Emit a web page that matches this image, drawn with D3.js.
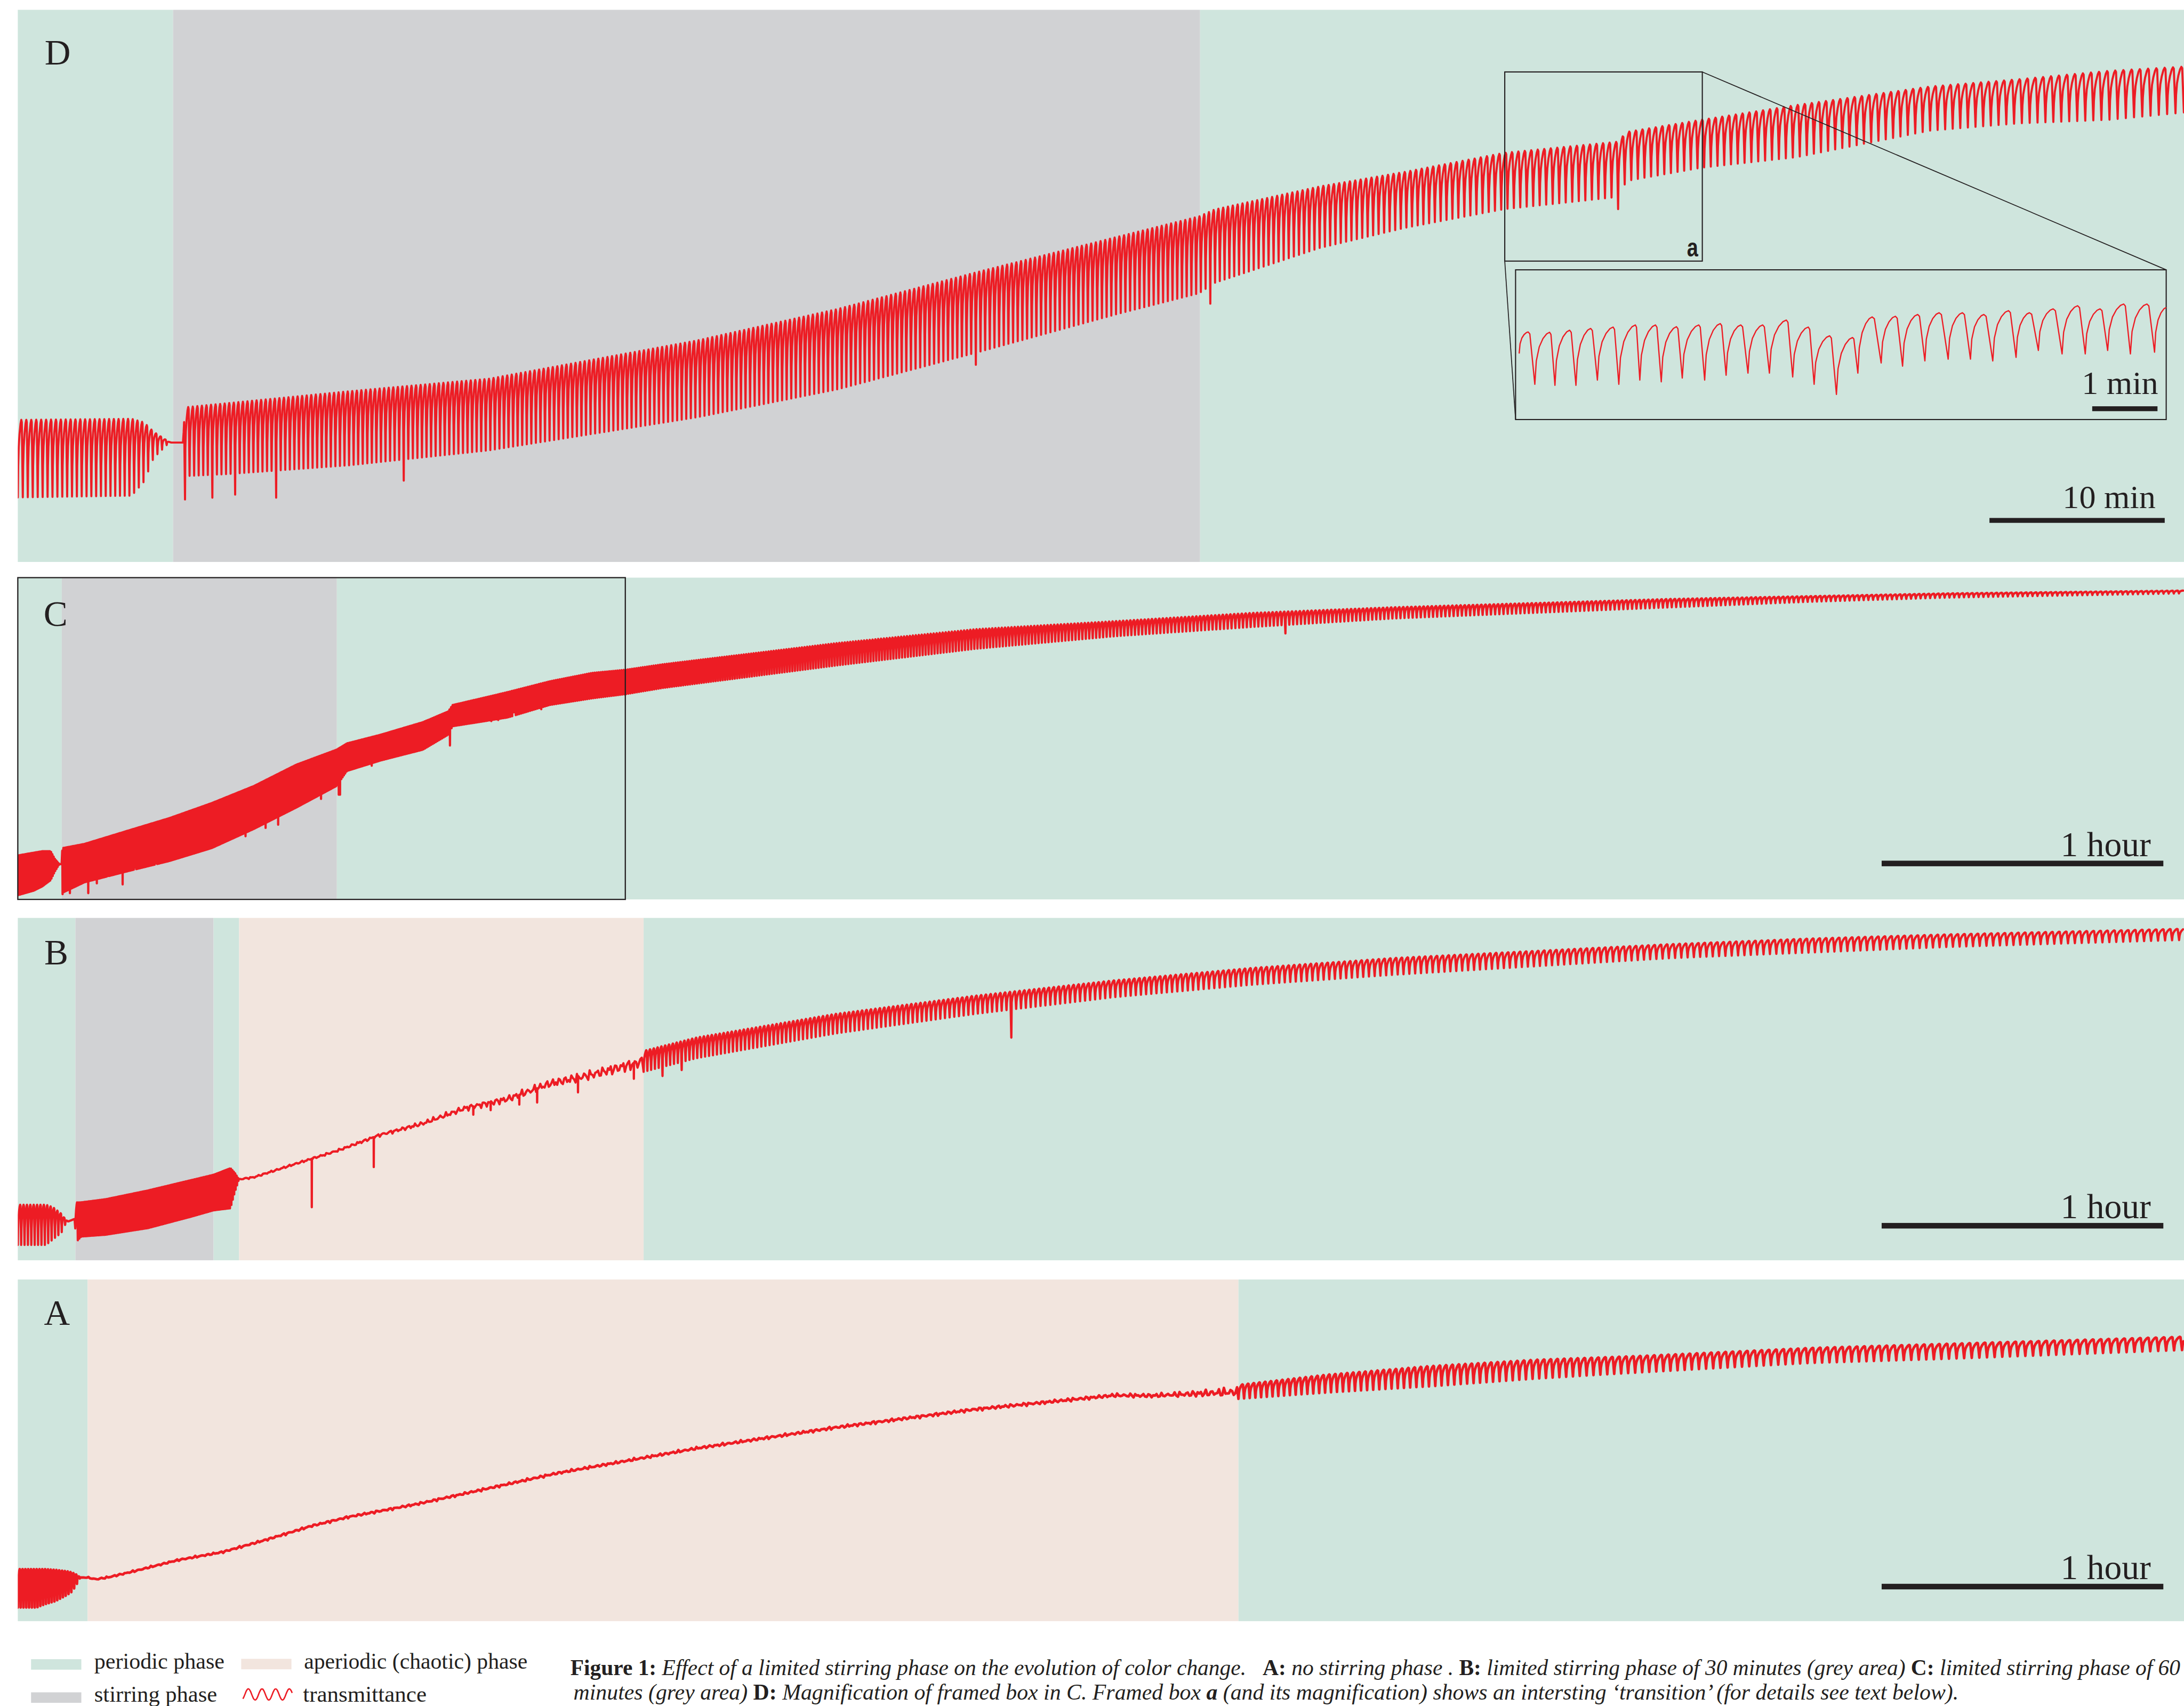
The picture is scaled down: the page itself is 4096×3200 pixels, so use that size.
<!DOCTYPE html>
<html>
<head>
<meta charset="utf-8">
<script src="https://cdn.jsdelivr.net/npm/d3@7"></script>
<style>
  html, body { margin: 0; padding: 0; background: #fff; }
  svg { display: block; }
  text { font-family: "Liberation Serif", "DejaVu Serif", serif; fill: #231f20; }
</style>
</head>
<body>
<svg id="fig" width="4096" height="3200" viewBox="0 0 6257 4888"></svg>
<script>
// ---------------------------------------------------------------
// Data: time in minutes (inset: seconds), transmittance in arbitrary units
// ---------------------------------------------------------------

// Phase bands [kind, start, end]
const phasesD = [["periodic", 0, 8.86], ["stirring", 8.86, 67.46], ["periodic", 67.46, 123.6]];
const phasesC = [["periodic", 0, 9.37], ["stirring", 9.37, 67.96], ["periodic", 67.96, 461.4]];
const phasesB = [["periodic", 0, 12.27], ["stirring", 12.27, 41.7], ["periodic", 41.7, 47.14],
                 ["aperiodic", 47.14, 133.3], ["periodic", 133.3, 461.4]];
const phasesA = [["periodic", 0, 14.87], ["aperiodic", 14.87, 260], ["periodic", 260, 461.4]];

// Oscillation envelopes [t, upper, lower]
const envD = [[0, 407, 185], [6.5, 410, 190], [7.2, 400, 230], [7.75, 373, 298], [8.3, 355, 325],
  [8.6, 345, 340], [8.74, 342, 342], [9.44, 342, 342], [9.52, 443, 246], [12, 455, 252],
  [18.9, 489, 277], [26.9, 525, 320], [38.8, 635, 415], [46.8, 725, 495], [54.7, 830, 600],
  [62.7, 931, 710], [67.4, 990, 770], [68.3, 1010, 800], [74.3, 1076, 900], [79.2, 1118, 958],
  [84.8, 1172, 1011], [91.3, 1204, 1046], [91.8, 1232, 1092], [96.1, 1267, 1130],
  [101.5, 1309, 1160], [109.1, 1362, 1236], [114.2, 1383, 1257], [119.3, 1407, 1267],
  [123.6, 1419, 1288]];
const periodD = [[0, 0.285], [9.5, 0.26], [40, 0.26], [68, 0.27], [80, 0.325], [86, 0.37],
  [96, 0.38], [123.6, 0.48]];
const dipsD = [[9.52, 179], [11.0, 184], [12.5, 193], [14.7, 184], [22.0, 233], [54.6, 565],
  [68.0, 740], [91.2, 1011]];

const envC = [[0, 126, 12], [3.4, 134, 25], [5.2, 138, 37], [7.0, 138, 55], [7.9, 116, 80],
  [8.85, 101, 101], [9.3, 101, 101], [9.5, 147, 19], [14.2, 159, 49], [23.2, 196, 80],
  [32.3, 233, 110], [41.3, 276, 147], [50.3, 325, 202], [59.3, 386, 263], [67.9, 429, 325],
  [70.1, 447, 368], [77.3, 472, 398], [86.3, 508, 429], [91.7, 539, 472], [92.6, 557, 496],
  [104.3, 594, 521], [113.3, 625, 557], [122.3, 649, 576], [129.4, 658, 588], [137.5, 674, 606],
  [174.2, 734, 670], [203.9, 774, 718], [233.5, 797, 754], [263.2, 821, 781], [292.9, 837, 805],
  [322.5, 849, 821], [352.2, 861, 837], [381.9, 869, 853], [411.5, 877, 865], [461.4, 885, 877]];
const periodC = [[0, 0.285], [9.4, 0.26], [68, 0.27], [130, 0.45], [250, 0.8], [461.4, 1.1]];
const dipsC = [[9.6, 15], [11.1, 18], [14.9, 18], [16.9, 46], [19.2, 67], [22.3, 43], [25.0, 92],
  [29.5, 104], [38.5, 135], [48.5, 181], [52.9, 205], [55.4, 214], [64.7, 288], [68.5, 300],
  [75.5, 383], [92.1, 441], [100.7, 511], [102.5, 514], [105.7, 536], [111.5, 545], [270, 762]];
const frameC = [0, 129.4];

const envB1 = [[0, 159, 44], [6.0, 159, 44], [7.5, 152, 60], [9.3, 133, 79], [10.0, 120, 100],
  [10.7, 111, 111], [12.2, 119, 119], [12.3, 166, 50], [13.5, 166, 68], [18.7, 175, 73],
  [27.7, 200, 92], [36.7, 229, 124], [41.7, 245, 143], [45.3, 264, 149], [46.2, 251, 194],
  [47.1, 232, 232]];
const periodB1 = [[0, 0.72], [12.2, 0.72], [12.3, 0.3], [47.2, 0.3]];
const driftB = [[47.1, 232], [50.3, 238], [59.3, 277], [68.3, 315], [77.3, 360], [86.3, 392],
  [95.3, 436], [104.3, 462], [113.3, 506], [122.3, 532], [133.3, 570]];
const jitterB = [[47.1, 3], [65, 4], [80, 6], [95, 10], [110, 14], [125, 18], [133.3, 22]];
const spikesB = [[62.6, 152], [75.8, 267], [97.0, 417], [100.7, 430], [106.8, 446],
  [110.6, 452], [119.3, 481], [131.2, 520]];
const envB2 = [[133.3, 600, 540], [144.5, 638, 579], [174.2, 706, 650], [203.9, 758, 706],
  [233.5, 802, 754], [263.2, 838, 790], [292.9, 866, 818], [322.5, 886, 842], [352.2, 906, 866],
  [381.9, 922, 882], [411.5, 934, 898], [461.4, 950, 918]];
const periodB2 = [[133.3, 0.8], [200, 1.0], [300, 1.25], [461.4, 1.5]];
const dipsB2 = [[137.5, 528], [141.0, 545], [211.3, 638]];

const envA1 = [[0, 149, 39], [4.0, 149, 39], [5.7, 149, 48], [8.0, 147, 57], [10.4, 143, 74],
  [11.4, 140, 83], [12.3, 135, 99], [13.3, 125, 125]];
const periodA1 = [[0, 0.6], [15, 0.6]];
const driftA = [[13.3, 125], [14.9, 125], [16.6, 120], [19.4, 126], [24.7, 143], [34.1, 175],
  [43.6, 198], [53.1, 234], [62.6, 273], [70.6, 299], [85.2, 336], [114.9, 424], [144.5, 495],
  [174.2, 555], [203.9, 607], [233.5, 647], [241.6, 646], [260, 657]];
const jitterA = [[13.3, 0], [16, 3], [60, 4], [150, 5], [230, 6], [245, 8], [255, 14], [260, 18]];
const envA2 = [[260, 677, 637], [278.7, 706, 655], [301.0, 731, 673], [323.3, 749, 695],
  [345.7, 760, 713], [381.9, 783, 740], [411.5, 795, 752], [461.4, 815, 777]];
const periodA2 = [[260, 1.2], [345, 1.5], [461.4, 1.7]];

// Magnified box "a" (time in seconds)
const insetStart = [3.3, 189];
const insetEnd = [598, 321];
const insetPeaks = [[11.6, 251], [31.3, 250], [49.7, 256], [69.0, 261], [89.6, 265], [110.1, 271],
  [128.6, 271], [147.9, 266], [168.4, 271], [188.1, 275], [207.0, 271], [227.1, 271], [248.9, 285],
  [269.0, 265], [288.7, 240], [309.7, 235], [327.7, 294], [349.1, 296], [369.6, 301], [389.3, 306],
  [410.7, 306], [430.4, 301], [453.0, 312], [472.3, 306], [494.1, 317], [516.6, 326], [537.2, 317],
  [558.9, 331], [580.3, 331]];
const insetTroughs = [[17.7, 101], [36.2, 98], [55.5, 98], [75.2, 113], [94.9, 101], [114.2, 113],
  [133.9, 108], [153.2, 119], [173.8, 113], [193.5, 127], [213.6, 133], [233.3, 133], [254.7, 122],
  [274.4, 101], [294.9, 72], [314.6, 133], [336.0, 162], [355.7, 153], [376.2, 168], [397.6, 173],
  [418.1, 173], [438.6, 168], [460.0, 178], [480.5, 198], [502.3, 188], [523.6, 188], [544.2, 198],
  [565.1, 188], [587.3, 193]];

// Scale bars [start, length]
const barD = [112.5, 10];
const barHour = [397, 60];
const barInset = [530, 60];

// Legend and caption texts
const legendRows = [
  ["periodic", "periodic phase"], ["aperiodic", "aperiodic (chaotic) phase"],
  ["stirring", "stirring phase"], ["trace", "transmittance"]];
const captionLine1 = [["b", "Figure 1: "],
  ["i", "Effect of a limited stirring phase on the evolution of color change.   "],
  ["b", "A: "], ["i", "no stirring phase . "], ["b", "B: "],
  ["i", "limited stirring phase of 30 minutes (grey area) "], ["b", "C: "],
  ["i", "limited stirring phase of 60"]];
const captionLine2 = [["i", "minutes (grey area) "], ["b", "D: "],
  ["i", "Magnification of framed box in C. Framed box "], ["bi", "a"],
  ["i", " (and its magnification) shows an intersting \u2018transition\u2019 (for details see text below)."]];

// ---------------------------------------------------------------
// Styling
// ---------------------------------------------------------------
const FILL = { periodic: "#cfe5dd", stirring: "#d1d2d4", aperiodic: "#f2e5de" };
const RED = "#ed1c24", INK = "#231f20";
const LEFT = 51, RIGHT = 6257;

const svg = d3.select("#fig");
svg.append("rect").attr("width", 6257).attr("height", 4888).attr("fill", "#fff");

// ---------------------------------------------------------------
// Trace builders
// ---------------------------------------------------------------
function knots(arr, col) {
  return d3.scaleLinear().domain(arr.map(d => d[0])).range(arr.map(d => d[col])).clamp(true);
}
// one relaxation cycle: fast drop to the trough, then a rounded rise to the crest
const riseShape = [[0.07, 0.4], [0.18, 0.65], [0.35, 0.82], [0.55, 0.95], [0.7, 1], [0.8, 0.97]];

function oscillate(env, period, dips, t0, t1) {
  const up = knots(env, 1), lo = knots(env, 2), per = knots(period, 1);
  const pts = [];
  let t = t0;
  while (t < t1) {
    const p = per(t);
    const dip = dips.find(d => d[0] >= t - p / 2 && d[0] < t + p / 2);
    pts.push([t, dip ? dip[1] : lo(t)]);
    for (const [f, g] of riseShape) {
      const tt = t + f * p;
      if (tt >= t1) break;
      pts.push([tt, lo(tt) + g * (up(tt) - lo(tt))]);
    }
    t += p;
  }
  return pts;
}

function wander(center, jitter, spikes, t0, t1, step) {
  const c = knots(center, 1), a = knots(jitter, 1);
  const pts = [];
  for (let t = t0; t <= t1; t += step) {
    const n = 0.5 * Math.sin(t * 4.7) + 0.3 * Math.sin(t * 11.3 + 1.1) + 0.2 * Math.sin(t * 27.9 + 2.3);
    pts.push([t, c(t) + a(t) * n]);
    spikes.filter(s => s[0] >= t && s[0] < t + step).forEach(s => {
      pts.push([s[0], c(s[0])], [s[0] + 0.02, s[1]], [s[0] + 0.05, c(s[0])]);
    });
  }
  return pts;
}

// ---------------------------------------------------------------
// Panels
// ---------------------------------------------------------------
function panel(id, top, bottom, span, ymax, phases, trace, width) {
  const x = d3.scaleLinear().domain(span).range([LEFT, RIGHT]);
  const y = d3.scaleLinear().domain([0, ymax]).range([bottom, top]);
  const g = svg.append("g").attr("id", "panel" + id);
  g.selectAll("rect.phase").data(phases).join("rect")
    .attr("class", "phase")
    .attr("x", d => x(d[1])).attr("y", top)
    .attr("width", d => x(d[2]) - x(d[1])).attr("height", bottom - top)
    .attr("fill", d => FILL[d[0]]);
  const clipId = "clip" + id;
  g.append("clipPath").attr("id", clipId).append("rect")
    .attr("x", LEFT).attr("y", top).attr("width", RIGHT - LEFT).attr("height", bottom - top);
  const line = d3.line().x(d => x(d[0])).y(d => y(d[1]));
  g.append("path").attr("clip-path", `url(#${clipId})`)
    .attr("d", line(trace)).attr("fill", "none").attr("stroke", RED)
    .attr("stroke-width", width).attr("stroke-linejoin", "round").attr("stroke-linecap", "round");
  return { g, x, y };
}

function scaleBar(g, x, bar, yTop, thick, label, textY, size, textInset) {
  const x0 = x(bar[0]), x1 = x(bar[0] + bar[1]);
  g.append("rect").attr("x", x0).attr("y", yTop).attr("width", x1 - x0).attr("height", thick).attr("fill", INK);
  g.append("text").attr("x", x1 - textInset).attr("y", textY).attr("text-anchor", "end")
    .attr("font-size", size).text(label);
}

function letter(g, label, lx, ly) {
  g.append("text").attr("x", lx).attr("y", ly).attr("font-size", 103).text(label);
}

// D
const traceD = oscillate(envD, periodD, dipsD, 0, 123.6);
const pD = panel("D", 28, 1610, [0, 123.6], 1582, phasesD, traceD, 6);
letter(pD.g, "D", 128, 184);
scaleBar(pD.g, pD.x, barD, 1484, 14, "10 min", 1455, 95, 26);

// box a and its magnification
{
  const g = pD.g;
  const a = { x0: 4311, x1: 4877, y0: 206, y1: 748 };
  const m = { x0: 4342, x1: 6206, y0: 773, y1: 1202 };
  g.append("line").attr("x1", a.x1).attr("y1", a.y0).attr("x2", m.x1).attr("y2", m.y0)
    .attr("stroke", INK).attr("stroke-width", 2.6);
  g.append("line").attr("x1", a.x0).attr("y1", a.y1).attr("x2", m.x0).attr("y2", m.y1)
    .attr("stroke", INK).attr("stroke-width", 2.6);
  g.append("rect").attr("x", a.x0).attr("y", a.y0).attr("width", a.x1 - a.x0).attr("height", a.y1 - a.y0)
    .attr("fill", "none").attr("stroke", INK).attr("stroke-width", 3.2);
  g.append("text").attr("transform", "translate(4865,734) scale(0.78,1)")
    .attr("text-anchor", "end").attr("font-size", 74).attr("font-weight", "bold")
    .style("font-family", "'Liberation Sans', Arial, sans-serif").text("a");
  g.append("rect").attr("x", m.x0).attr("y", m.y0).attr("width", m.x1 - m.x0).attr("height", m.y1 - m.y0)
    .attr("fill", "none").attr("stroke", INK).attr("stroke-width", 3.2);

  const xi = d3.scaleLinear().domain([0, 598]).range([m.x0, m.x1]);
  const yi = d3.scaleLinear().domain([0, 429]).range([m.y1, m.y0]);
  const riseI = [[0.1, 0.45], [0.3, 0.72], [0.55, 0.88], [0.8, 0.97], [1, 1]];
  const pts = [insetStart];
  let prev = insetStart;
  insetPeaks.forEach((pk, i) => {
    riseI.forEach(([f, gg]) => pts.push([prev[0] + f * (pk[0] - prev[0]), prev[1] + gg * (pk[1] - prev[1])]));
    const tr = insetTroughs[i];
    if (tr) {
      pts.push([pk[0] + 0.25 * (tr[0] - pk[0]), pk[1] - 0.04 * (pk[1] - tr[1])]);
      pts.push(tr);
      prev = tr;
    }
  });
  riseI.forEach(([f, gg]) => pts.push([prev[0] + f * (insetEnd[0] - prev[0]), prev[1] + gg * (insetEnd[1] - prev[1])]));
  g.append("path").attr("d", d3.line().x(d => xi(d[0])).y(d => yi(d[1]))(pts))
    .attr("fill", "none").attr("stroke", RED).attr("stroke-width", 3.6).attr("stroke-linejoin", "round");
  scaleBar(g, xi, barInset, 1164, 14, "1 min", 1129, 95, -2);
}

// C
const traceC = oscillate(envC, periodC, dipsC, 0, 461.4);
const pC = panel("C", 1655, 2577, [0, 461.4], 922, phasesC, traceC, 6.5);
pC.g.append("rect").attr("x", pC.x(frameC[0])).attr("y", 1655)
  .attr("width", pC.x(frameC[1]) - pC.x(frameC[0])).attr("height", 2577 - 1655)
  .attr("fill", "none").attr("stroke", INK).attr("stroke-width", 3.5);
letter(pC.g, "C", 125, 1794);
scaleBar(pC.g, pC.x, barHour, 2466, 16, "1 hour", 2453, 100, 36);

// B
const traceB = oscillate(envB1, periodB1, [], 0, 47.1)
  .concat(wander(driftB, jitterB, spikesB, 47.1, 133.3, 0.3))
  .concat(oscillate(envB2, periodB2, dipsB2, 133.3, 461.4));
const pB = panel("B", 2630, 3611, [0, 461.4], 981, phasesB, traceB, 6.5);
letter(pB.g, "B", 127, 2764);
scaleBar(pB.g, pB.x, barHour, 3504, 16, "1 hour", 3491, 100, 36);

// A
const traceA = oscillate(envA1, periodA1, [], 0, 13.3)
  .concat(wander(driftA, jitterA, [], 13.3, 260, 0.35))
  .concat(oscillate(envA2, periodA2, [], 260, 461.4));
const pA = panel("A", 3666, 4645, [0, 461.4], 979, phasesA, traceA, 7.5);
letter(pA.g, "A", 126, 3796);
scaleBar(pA.g, pA.x, barHour, 4538, 16, "1 hour", 4525, 100, 36);

// ---------------------------------------------------------------
// Legend
// ---------------------------------------------------------------
const fitters = [];
function fitText(sel, x, y, target) {
  fitters.push(() => {
    sel.attr("transform", null);
    const w = sel.node().getComputedTextLength();
    const s = w > 0 ? target / w : 1;
    sel.attr("transform", `translate(${x},${y}) scale(${s},1)`);
  });
}
{
  const lg = svg.append("g").attr("id", "legend");
  const cells = [
    { sw: [89, 4754], tx: [270, 4781], w: 373 },
    { sw: [691, 4753], tx: [871, 4781], w: 640 },
    { sw: [89, 4849], tx: [270, 4876], w: 352 },
    { sw: [691, 4838], tx: [868, 4876], w: 354 }];
  legendRows.forEach(([kind, label], i) => {
    const c = cells[i];
    if (kind === "trace") {
      const zig = d3.range(0, 41).map(k => [c.sw[0] + 5 + k * 141 / 40,
        4855 - 16 * Math.sin((k / 40) * 2 * Math.PI * 3.6 - 0.9)]);
      lg.append("path").attr("d", d3.line().curve(d3.curveCatmullRom)(zig))
        .attr("fill", "none").attr("stroke", RED).attr("stroke-width", 4);
    } else {
      lg.append("rect").attr("x", c.sw[0]).attr("y", c.sw[1]).attr("width", 144).attr("height", 30)
        .attr("fill", FILL[kind]);
    }
    const t = lg.append("text").attr("font-size", 64).text(label);
    fitText(t, c.tx[0], c.tx[1], c.w);
  });
}

// ---------------------------------------------------------------
// Caption
// ---------------------------------------------------------------
function caption(parts, x, y, width) {
  const t = svg.append("text").attr("font-size", 64).style("white-space", "pre");
  parts.forEach(([style, s]) => {
    t.append("tspan")
      .attr("font-weight", style.includes("b") ? "bold" : "normal")
      .attr("font-style", style.includes("i") ? "italic" : "normal")
      .text(s);
  });
  fitText(t, x, y, width);
}
caption(captionLine1, 1634, 4800, 4612);
caption(captionLine2, 1643, 4870, 3967);

function runFit() { fitters.forEach(f => f()); }
runFit();
if (document.fonts && document.fonts.ready) document.fonts.ready.then(runFit);
</script>
</body>
</html>
